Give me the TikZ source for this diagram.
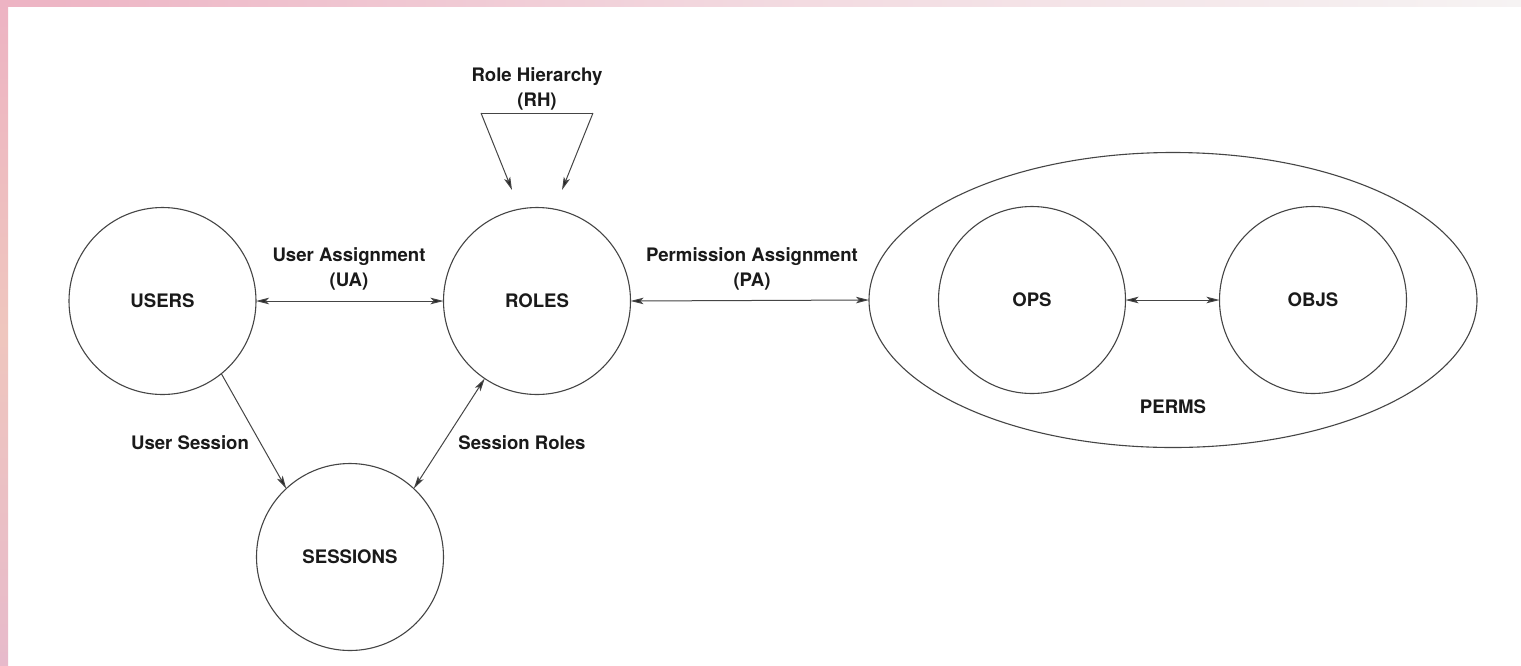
\documentclass[tikz,border=0pt]{standalone}
\usepackage{fontspec}
\setmainfont{TeX Gyre Heros}
\usetikzlibrary{arrows.meta,shapes.geometric}
\definecolor{edgecol}{HTML}{454545}
\definecolor{txtcol}{HTML}{1A1A1A}
\definecolor{pinkA}{HTML}{EDB3C3}
\definecolor{pinkB}{HTML}{EFC6BE}
\definecolor{pinkC}{HTML}{E7BACB}
\definecolor{greyA}{HTML}{F6F3F3}
\tikzset{
  setcircle/.style={circle,draw=edgecol,line width=1.1pt,minimum size=187pt,inner sep=0pt,outer sep=0pt,
    font=\fontsize{18.6}{22}\selectfont\bfseries,text=txtcol},
  lbl/.style={font=\fontsize{18.6}{25}\selectfont\bfseries,text=txtcol,align=center,inner sep=0pt},
  conn/.style={draw=edgecol,line width=1pt},
  arrhead/.style={Stealth[length=13pt,width=6.5pt,inset=3pt,fill=black!85]},
  tip/.style={-{Stealth[length=13pt,width=6.5pt,inset=3pt,fill=black!85]}},
  tips/.style={{Stealth[length=13pt,width=6.5pt,inset=3pt,fill=black!85]}-{Stealth[length=13pt,width=6.5pt,inset=3pt,fill=black!85]}}
}
\begin{document}
\begin{tikzpicture}[x=1pt,y=-1pt]
\useasboundingbox (0,0) rectangle (1521,665);
\fill[white] (0,0) rectangle (1521,665);
% frame strips
\shade[top color=pinkA,bottom color=pinkC,middle color=pinkB] (0,0) rectangle (8,665);
\shade[left color=pinkA,right color=greyA,middle color=greyA!60!pinkA] (0,0) rectangle (1521,6);

% nodes
\node[setcircle] (users) at (162.5,301) {USERS};
\node[setcircle] (roles) at (537,301) {ROLES};
\node[setcircle] (sessions) at (350,557) {SESSIONS};
\node[ellipse,draw=edgecol,line width=1.1pt,minimum width=608pt,minimum height=295pt,inner sep=0pt,outer sep=0pt] (perms) at (1173,300) {};
\node[setcircle] (ops) at (1032,300) {OPS};
\node[setcircle] (objs) at (1313,300) {OBJS};
\node[lbl] (permslbl) at (1173,407) {PERMS};

% labels
\node[lbl] (rhlbl) at (537,89) {Role Hierarchy\\(RH)};
\node[lbl] (ualbl) at (349,269) {User Assignment\\(UA)};
\node[lbl] (palbl) at (752,269) {Permission Assignment\\(PA)};
\node[lbl] (uslbl) at (190,443) {User Session};
\node[lbl] (srlbl) at (522,443) {Session Roles};

% role hierarchy
\coordinate (rhl) at (481,113);
\coordinate (rhr) at (593,113);
\coordinate (rhtl) at (512,190);
\coordinate (rhtr) at (562,190);
\draw[conn] (rhl) -- (rhr);
\draw[conn,tip] (rhl) -- (rhtl);
\draw[conn,tip] (rhr) -- (rhtr);

% connectors
\draw[conn,tips] (users.east) -- (roles.west);
\draw[conn,tips] (roles.east) -- (perms.west);
\draw[conn,tips] (ops.east) -- (objs.west);
\draw[conn,tip] (users.-51) -- (sessions.133);
\draw[conn,tips] (roles.236) -- (sessions.47);
\end{tikzpicture}
\end{document}
